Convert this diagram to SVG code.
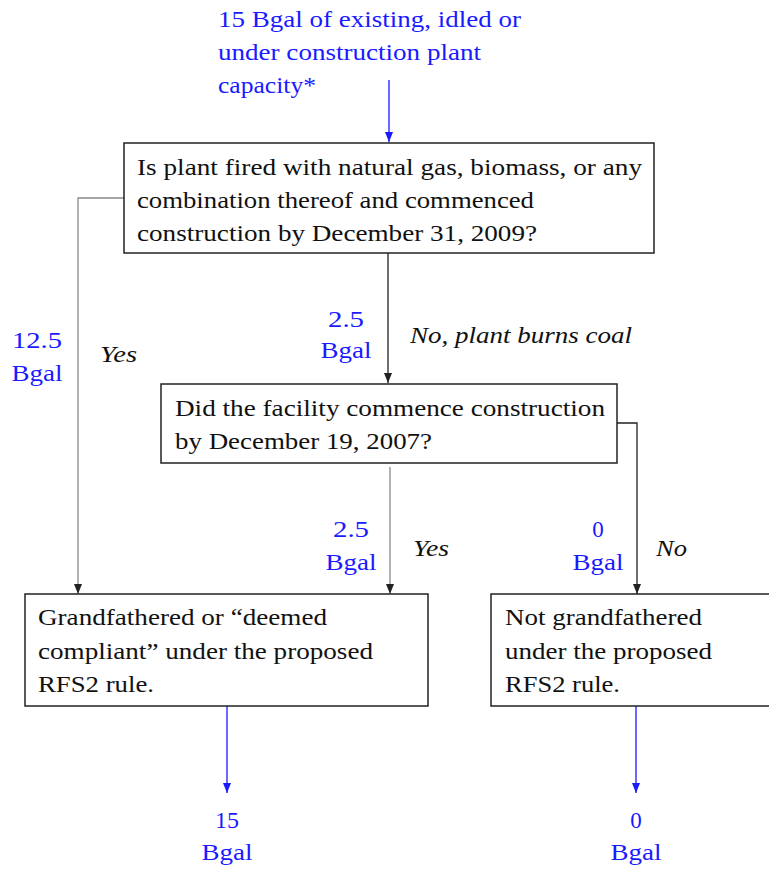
<svg xmlns="http://www.w3.org/2000/svg" width="769" height="869" viewBox="0 0 769 869">
<style>
text{font-family:"Liberation Serif",Tinos,"Times New Roman",serif;font-size:23px;fill:#111}
.b{fill:#1a1aff}
.i{font-style:italic}
.m{text-anchor:middle}
.box{fill:#fff;stroke:#222;stroke-width:1.5}
.k{fill:none;stroke:#222;stroke-width:1.3}
.g{fill:none;stroke:#888;stroke-width:1.3}
.bl{fill:none;stroke:#1a1aff;stroke-width:1.3}
</style>
<defs>
<marker id="a" viewBox="0 0 10 10" refX="10" refY="5" markerWidth="10" markerHeight="10" markerUnits="userSpaceOnUse" orient="auto"><path d="M0,1 L10,5 L0,9 Z" fill="#222"/></marker>
<marker id="ab" viewBox="0 0 10 10" refX="10" refY="5" markerWidth="10" markerHeight="10" markerUnits="userSpaceOnUse" orient="auto"><path d="M0,1 L10,5 L0,9 Z" fill="#1a1aff"/></marker>
</defs>
<g id="connectors">
<path class="bl" d="M389,80 V142" marker-end="url(#ab)"/>
<path class="g" d="M124,198 H78 V594" marker-end="url(#a)"/>
<path class="k" d="M388,253 V383" marker-end="url(#a)"/>
<path class="g" d="M390,467 V594" marker-end="url(#a)"/>
<path class="k" d="M617,423 H637 V594" marker-end="url(#a)"/>
<path class="bl" d="M227,706 V793" marker-end="url(#ab)"/>
<path class="bl" d="M636,706 V793" marker-end="url(#ab)"/>
</g>
<g id="source">
<text class="b" x="218" y="27" textLength="303" lengthAdjust="spacingAndGlyphs">15 Bgal of existing, idled or</text>
<text class="b" x="218" y="60" textLength="263" lengthAdjust="spacingAndGlyphs">under construction plant</text>
<text class="b" x="218" y="93" textLength="98" lengthAdjust="spacingAndGlyphs">capacity*</text>
</g>
<g id="q1">
<rect class="box" x="124" y="143" width="530" height="110"/>
<text x="137" y="175" textLength="505" lengthAdjust="spacingAndGlyphs">Is plant fired with natural gas, biomass, or any</text>
<text x="137" y="208" textLength="397" lengthAdjust="spacingAndGlyphs">combination thereof and commenced</text>
<text x="137" y="241" textLength="400" lengthAdjust="spacingAndGlyphs">construction by December 31, 2009?</text>
</g>
<g id="q2">
<rect class="box" x="161" y="384" width="456" height="79"/>
<text x="175" y="416" textLength="430" lengthAdjust="spacingAndGlyphs">Did the facility commence construction</text>
<text x="175" y="449" textLength="257" lengthAdjust="spacingAndGlyphs">by December 19, 2007?</text>
</g>
<g id="grandfathered">
<rect class="box" x="25" y="594" width="403" height="112"/>
<text x="38" y="625" textLength="289" lengthAdjust="spacingAndGlyphs">Grandfathered or “deemed</text>
<text x="38" y="659" textLength="335" lengthAdjust="spacingAndGlyphs">compliant” under the proposed</text>
<text x="38" y="692" textLength="116" lengthAdjust="spacingAndGlyphs">RFS2 rule.</text>
</g>
<g id="not-grandfathered">
<rect class="box" x="491" y="594" width="290" height="112"/>
<text x="505" y="625" textLength="197" lengthAdjust="spacingAndGlyphs">Not grandfathered</text>
<text x="505" y="659" textLength="207" lengthAdjust="spacingAndGlyphs">under the proposed</text>
<text x="505" y="692" textLength="115" lengthAdjust="spacingAndGlyphs">RFS2 rule.</text>
</g>
<g id="labels">
<text class="b m" x="37" y="348" textLength="50" lengthAdjust="spacingAndGlyphs">12.5</text>
<text class="b m" x="37" y="381" textLength="51" lengthAdjust="spacingAndGlyphs">Bgal</text>
<text class="i" x="100" y="362" textLength="37" lengthAdjust="spacingAndGlyphs">Yes</text>
<text class="b m" x="346" y="327" textLength="36" lengthAdjust="spacingAndGlyphs">2.5</text>
<text class="b m" x="346" y="358" textLength="51" lengthAdjust="spacingAndGlyphs">Bgal</text>
<text class="i" x="410" y="343" textLength="222" lengthAdjust="spacingAndGlyphs">No, plant burns coal</text>
<text class="b m" x="351" y="537" textLength="36" lengthAdjust="spacingAndGlyphs">2.5</text>
<text class="b m" x="351" y="570" textLength="51" lengthAdjust="spacingAndGlyphs">Bgal</text>
<text class="i" x="413" y="556" textLength="36" lengthAdjust="spacingAndGlyphs">Yes</text>
<text class="b m" x="598" y="537">0</text>
<text class="b m" x="598" y="570" textLength="51" lengthAdjust="spacingAndGlyphs">Bgal</text>
<text class="i" x="656" y="556" textLength="31" lengthAdjust="spacingAndGlyphs">No</text>
</g>
<g id="outputs">
<text class="b m" x="227" y="828" textLength="24" lengthAdjust="spacingAndGlyphs">15</text>
<text class="b m" x="227" y="860" textLength="51" lengthAdjust="spacingAndGlyphs">Bgal</text>
<text class="b m" x="636" y="828">0</text>
<text class="b m" x="636" y="860" textLength="51" lengthAdjust="spacingAndGlyphs">Bgal</text>
</g>
</svg>
